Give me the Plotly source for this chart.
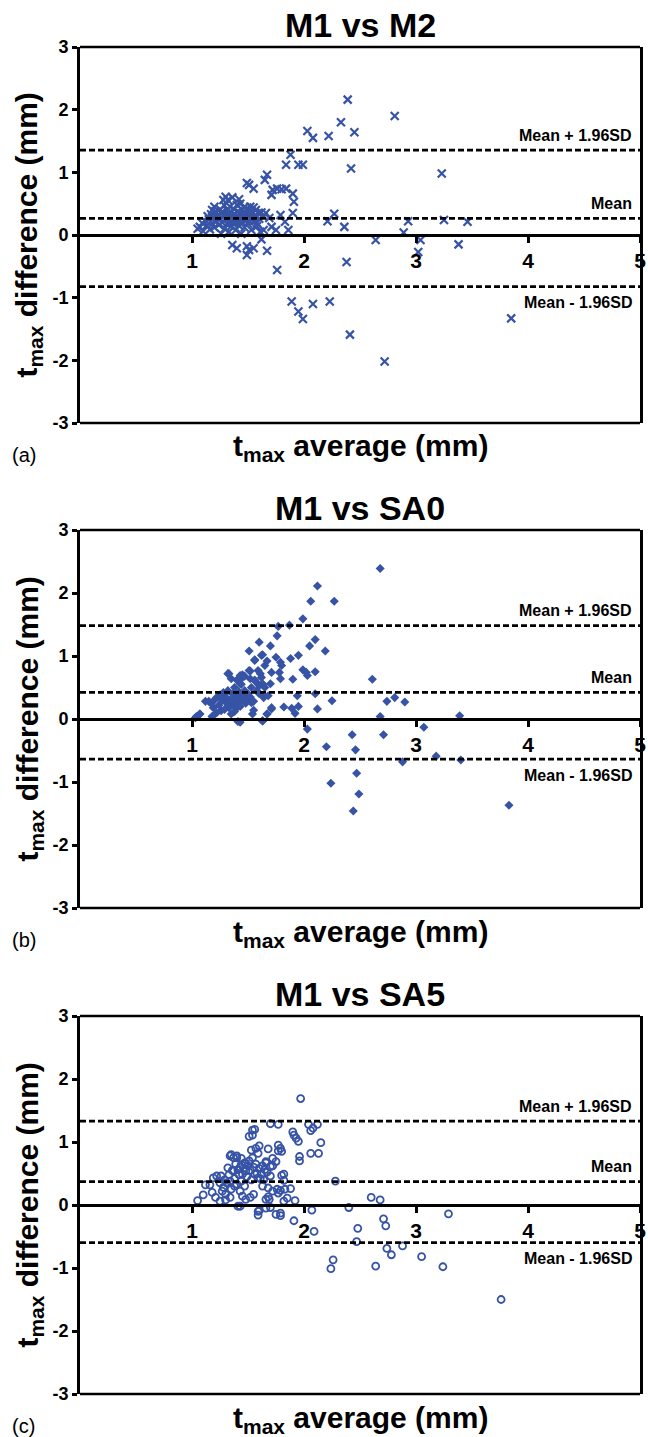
import plotly.graph_objects as go

# ---- panel (a): M1 vs M2 ----
m2_avg = [2.39, 2.81, 2.33, 2.45, 2.03, 2.08, 2.22, 2.42, 1.88, 1.84,
          1.95, 1.99, 3.23, 1.67, 1.65, 1.49, 1.51, 1.55, 1.72, 1.76,
          1.80, 1.84, 1.71, 1.90, 1.91, 1.90, 1.79, 1.83, 1.86, 2.21,
          2.27, 2.36, 2.93, 2.89, 3.25, 3.46, 2.64, 3.04, 3.02, 3.38,
          2.38, 1.76, 1.89, 1.95, 1.99, 2.08, 2.23, 2.41, 2.72, 3.85,
          1.36, 1.40, 1.49, 1.51, 1.55, 1.67, 1.62, 1.49, 1.66, 1.69,
          1.71, 1.75, 1.64, 1.58,
          1.05, 1.07, 1.09, 1.10, 1.12, 1.13, 1.14, 1.15, 1.16, 1.17,
          1.18, 1.19, 1.20, 1.20, 1.21, 1.22, 1.23, 1.24, 1.25, 1.25,
          1.26, 1.27, 1.28, 1.28, 1.29, 1.30, 1.30, 1.31, 1.31, 1.32,
          1.32, 1.33, 1.33, 1.34, 1.34, 1.35, 1.35, 1.36, 1.37, 1.37,
          1.38, 1.38, 1.39, 1.40, 1.40, 1.41, 1.41, 1.42, 1.43, 1.43,
          1.44, 1.44, 1.45, 1.45, 1.46, 1.47, 1.47, 1.48, 1.48, 1.49,
          1.50, 1.50, 1.51, 1.52, 1.52, 1.53, 1.54, 1.55, 1.55, 1.56,
          1.57, 1.58, 1.59, 1.60, 1.61, 1.62, 1.64, 1.26, 1.18, 1.36,
          1.42, 1.29, 1.22, 1.27, 1.33, 1.39, 1.46, 1.51, 1.24, 1.36,
          1.44, 1.53]
m2_diff = [2.16, 1.90, 1.80, 1.64, 1.66, 1.55, 1.58, 1.06, 1.28, 1.12,
           1.12, 1.12, 0.98, 0.96, 0.88, 0.83, 0.80, 0.74, 0.72, 0.74,
           0.73, 0.74, 0.64, 0.66, 0.53, 0.35, 0.32, 0.21, 0.08, 0.22,
           0.34, 0.13, 0.22, 0.04, 0.24, 0.21, -0.08, -0.08, -0.27, -0.15,
           -0.43, -0.56, -1.06, -1.22, -1.34, -1.10, -1.06, -1.59, -2.02, -1.33,
           -0.16, -0.21, -0.32, -0.24, -0.21, -0.25, -0.07, -0.18, 0.35, 0.27,
           0.13, 0.08, 0.08, 0.19,
           0.10, 0.13, 0.19, 0.06, 0.22, 0.15, 0.30, 0.25, 0.09, 0.33,
           0.18, 0.27, 0.45, 0.12, 0.38, 0.22, 0.30, 0.16, 0.41, 0.26,
           0.35, 0.20, 0.56, 0.31, 0.10, 0.61, 0.25, 0.40, 0.18, 0.56,
           0.33, 0.28, 0.05, 0.45, 0.22, 0.37, 0.14, 0.30, 0.26, 0.42,
           0.19, 0.34, 0.08, 0.29, 0.48, 0.23, 0.38, 0.15, 0.33, 0.50,
           0.26, 0.02, 0.40, 0.20, 0.31, 0.45, 0.12, 0.36, 0.25, 0.42,
           0.30, 0.18, 0.38, 0.27, 0.45, 0.08, 0.34, 0.44, 0.22, 0.30,
           0.40, 0.14, 0.35, 0.26, 0.05, 0.36, 0.30, 0.02, 0.40, 0.60,
           0.57, 0.47, 0.28, 0.36, 0.20, 0.24, 0.34, 0.22, 0.32, 0.19,
           0.28, 0.39]

# ---- panel (b): M1 vs SA0 ----
sa0_avg = [2.68, 2.12, 2.06, 2.27, 1.99, 1.87, 1.77, 1.76, 2.10, 1.60,
           1.70, 2.05, 1.51, 2.19, 1.63, 1.95, 1.88, 1.75, 1.79, 1.80,
           1.56, 1.65, 1.67, 1.99, 2.02, 2.03, 2.10, 1.90, 1.79, 1.78,
           1.71, 2.61, 1.52, 1.59, 1.33, 1.45, 1.63, 1.70, 1.52, 2.10,
           1.94, 2.25, 2.74, 2.81, 2.90, 1.95, 1.82, 1.89, 2.12, 1.92,
           1.71, 1.67, 1.55, 1.63, 1.41, 1.18, 1.07, 1.03, 2.68, 3.39,
           2.03, 3.07, 2.43, 2.71, 2.20, 2.46, 3.18, 3.40, 2.88, 2.47,
           2.24, 2.49, 2.44, 3.83,
           1.04, 1.07, 1.12, 1.15, 1.19, 1.18, 1.22, 1.28, 1.32, 1.35,
           1.43, 1.44, 1.43, 1.39, 1.26, 1.33, 1.35, 1.40, 1.43, 1.47,
           1.50, 1.51, 1.53, 1.54, 1.56, 1.62, 1.57, 1.60, 1.63, 1.64,
           1.67, 1.68, 1.71, 1.62, 1.17, 1.20, 1.22, 1.24, 1.25, 1.27,
           1.29, 1.30, 1.31, 1.32, 1.33, 1.34, 1.36, 1.37, 1.38, 1.38,
           1.40, 1.40, 1.41, 1.42, 1.43, 1.44, 1.45, 1.46, 1.47, 1.48,
           1.50, 1.52, 1.53, 1.55, 1.56, 1.58, 1.60, 1.61, 1.63, 1.65]
sa0_diff = [2.39, 2.11, 1.87, 1.87, 1.59, 1.49, 1.47, 1.32, 1.26, 1.22,
            1.16, 1.16, 1.08, 1.08, 1.02, 1.01, 0.96, 0.98, 0.90, 0.85,
            0.94, 0.85, 0.92, 0.78, 0.74, 0.69, 0.75, 0.63, 0.64, 0.74,
            0.74, 0.63, 0.76, 0.77, 0.72, 0.70, 0.56, 0.56, 0.64, 0.40,
            0.37, 0.29, 0.28, 0.34, 0.27, 0.20, 0.19, 0.17, 0.16, 0.09,
            0.16, 0.08, 0.14, -0.03, -0.04, 0.04, 0.08, 0.02, 0.04, 0.05,
            -0.16, -0.13, -0.25, -0.25, -0.44, -0.49, -0.59, -0.65, -0.68, -0.86,
            -1.02, -1.19, -1.46, -1.37,
            0.04, 0.08, 0.28, 0.28, 0.18, 0.04, 0.34, 0.42, 0.72, 0.64,
            0.69, 0.64, 0.56, 0.34, 0.13, 0.21, 0.08, 0.18, -0.05, 0.45,
            0.34, 0.77, 0.26, 0.08, 0.93, 1.01, 0.59, 0.53, -0.03, 0.34,
            0.08, 0.37, 0.18, 0.66, 0.25, 0.30, 0.10, 0.22, 0.38, 0.30,
            0.15, 0.35, 0.25, 0.45, 0.18, 0.30, 0.40, 0.22, 0.12, 0.50,
            0.27, 0.62, 0.35, 0.43, 0.20, 0.55, 0.30, 0.38, 0.68, 0.25,
            0.40, 0.35, 0.50, 0.28, 0.62, 0.45, 0.40, 0.72, 0.55, 0.50]

# ---- panel (c): M1 vs SA5 ----
sa5_avg = [1.97, 2.04, 2.12, 1.70, 1.77, 2.08, 2.06, 1.56, 1.54, 1.90,
           1.91, 1.93, 1.95, 2.15, 1.60, 1.77, 1.79, 1.68, 1.80, 1.53,
           2.06, 2.13, 1.96, 1.96, 1.35, 1.40, 1.44, 1.59, 1.72, 1.75,
           1.70, 1.66, 1.82, 1.82, 2.28, 1.76, 1.79, 1.88, 1.85, 1.92,
           1.68, 1.69, 1.63, 2.60, 2.68, 1.05, 1.10, 1.12, 1.16, 1.70,
           1.60, 1.59, 1.79, 1.79, 1.91, 2.07, 2.09, 2.40, 3.29, 2.71,
           2.73, 2.48, 2.47, 2.74, 2.78, 2.88, 3.05, 2.26, 2.24, 2.64,
           3.24, 3.76, 1.43,
           1.19, 1.22, 1.18, 1.21, 1.25, 1.26, 1.34, 1.37, 1.40, 1.32,
           1.37, 1.41, 1.44, 1.47, 1.51, 1.54, 1.51, 1.54, 1.57, 1.34,
           1.38, 1.43, 1.45, 1.48, 1.41, 1.52, 1.55, 1.34, 1.30, 1.28,
           1.31, 1.45, 1.48, 1.56, 1.59, 1.62, 1.65, 1.66, 1.59, 1.66,
           1.66, 1.68, 1.72, 1.75, 1.77, 1.70, 1.72, 1.77, 1.80, 1.83,
           1.82, 1.25, 1.27, 1.29, 1.30, 1.33, 1.35, 1.36, 1.38, 1.39,
           1.40, 1.42, 1.43, 1.44, 1.46, 1.47, 1.48, 1.49, 1.50, 1.52,
           1.53, 1.55, 1.57, 1.58, 1.60, 1.61, 1.63, 1.64, 1.67]
sa5_diff = [1.69, 1.28, 1.28, 1.29, 1.28, 1.22, 1.18, 1.20, 1.11, 1.16,
            1.11, 1.06, 1.01, 0.99, 0.94, 0.95, 0.90, 0.89, 0.85, 0.87,
            0.82, 0.82, 0.77, 0.70, 0.80, 0.78, 0.74, 0.82, 0.74, 0.69,
            0.61, 0.69, 0.49, 0.39, 0.38, 0.25, 0.23, 0.26, 0.11, 0.07,
            0.13, 0.09, 0.30, 0.12, 0.08, 0.07, 0.16, 0.32, 0.32, -0.04,
            -0.09, -0.16, -0.13, -0.17, -0.25, -0.08, -0.42, -0.04, -0.14, -0.22,
            -0.33, -0.37, -0.58, -0.69, -0.79, -0.65, -0.82, -0.87, -1.01, -0.97,
            -0.98, -1.50, -0.02,
            0.43, 0.46, 0.20, 0.12, 0.06, 0.46, 0.78, 0.75, 0.75, 0.59,
            0.54, 0.56, 0.64, 0.67, 0.70, 0.75, 1.09, 1.19, 0.90, 0.38,
            0.30, 0.22, 0.14, 0.09, -0.02, 0.12, 0.17, 0.12, 0.17, 0.28,
            0.35, 0.49, 0.54, 0.49, 0.43, 0.49, 0.56, 0.67, -0.10, -0.05,
            0.09, 0.27, 0.22, -0.15, 0.19, 0.46, 0.62, 0.86, 0.47, 0.25,
            0.06, 0.35, 0.22, 0.40, 0.08, 0.48, 0.25, 0.55, 0.42, 0.65,
            0.33, 0.48, 0.60, 0.38, 0.58, 0.30, 0.66, 0.45, 0.62, 0.55,
            0.40, 0.60, 0.65, 0.50, 0.58, 0.42, 0.62, 0.40, 0.52]

titles = ["M1 vs M2", "M1 vs SA0", "M1 vs SA5"]
panel_tags = ["(a)", "(b)", "(c)"]
mean_diff = [0.266, 0.424, 0.370]
upper_loa = [1.354, 1.483, 1.331]
lower_loa = [-0.823, -0.636, -0.597]
x_ticks = [1, 2, 3, 4, 5]
y_ticks = [-3, -2, -1, 0, 1, 2, 3]

W, H = 648, 1437
ML, MR, MT, MB = 80, 1.5, 47, 43
plot_w = W - ML - MR
plot_h = H - MT - MB
frames = [(47, 423), (530, 908), (1016, 1394)]  # top/bottom pixel rows of each frame

BLUE = "#3753a5"
FONT = "Liberation Sans, Arial, sans-serif"
LW = 2.7


def pfrac(py):
    # pixel row -> paper fraction
    return (H - MB - py) / plot_h


series = [(m2_avg, m2_diff), (sa0_avg, sa0_diff), (sa5_avg, sa5_diff)]
markers = [
    dict(symbol="x-thin", size=8, color=BLUE, line=dict(width=2.2, color=BLUE)),
    dict(symbol="diamond", size=7, color=BLUE, line=dict(width=0)),
    dict(symbol="circle-open", size=7, color=BLUE, line=dict(width=1.8, color=BLUE)),
]

fig = go.Figure()
layout = dict(
    width=W, height=H,
    margin=dict(l=ML, r=MR, t=MT, b=MB),
    paper_bgcolor="white", plot_bgcolor="white",
    showlegend=False,
    font=dict(family=FONT, color="black", size=14),
)
shapes = []
annotations = []

for i in range(3):
    n = "" if i == 0 else str(i + 1)
    xr, yr = "x" + n, "y" + n
    top, bot = frames[i]
    y0, y1 = pfrac(bot), pfrac(top)

    fig.add_trace(go.Scatter(x=series[i][0], y=series[i][1], mode="markers",
                             marker=markers[i], xaxis=xr, yaxis=yr, hoverinfo="skip"))

    layout["xaxis" + n] = dict(
        domain=[0, 1], anchor="free", position=(y0 + y1) / 2, range=[0, 5],
        showline=True, linewidth=LW, linecolor="black",
        ticks="outside", ticklen=6, tickwidth=2.5, tickcolor="black",
        tickvals=x_ticks, ticktext=["<b>%d</b>" % v for v in x_ticks],
        tickfont=dict(size=21, family=FONT, color="black"),
        ticklabeloverflow="allow",
        showgrid=False, zeroline=False)
    layout["yaxis" + n] = dict(
        domain=[y0, y1], anchor=xr, range=[-3, 3],
        showline=True, mirror=True, linewidth=LW, linecolor="black",
        ticks="outside", ticklen=5, tickwidth=2.5, tickcolor="black",
        tickvals=y_ticks, ticktext=["<b>%d</b>" % v for v in y_ticks],
        tickfont=dict(size=18, family=FONT, color="black"),
        showgrid=False, zeroline=False)

    # top and bottom of the frame
    for yy in (0, 1):
        shapes.append(dict(type="line", xref=xr + " domain", yref=yr + " domain",
                           x0=0, x1=1, y0=yy, y1=yy,
                           line=dict(color="black", width=LW)))

    # mean and limits of agreement
    levels = [upper_loa[i], mean_diff[i], lower_loa[i]]
    labels = ["Mean + 1.96SD", "Mean", "Mean - 1.96SD"]
    shifts = [15, 15, -16]
    for val, lab, sh in zip(levels, labels, shifts):
        shapes.append(dict(type="line", xref=xr, yref=yr, x0=0, x1=5, y0=val, y1=val,
                           line=dict(color="black", width=LW, dash="6px,3px")))
        annotations.append(dict(xref=xr, yref=yr, x=5, y=val, xanchor="right",
                                yanchor="middle", xshift=-6, yshift=sh, showarrow=False,
                                text="<b>%s</b>" % lab,
                                font=dict(size=16, family=FONT, color="black")))

    annotations.append(dict(xref=xr + " domain", yref=yr + " domain", x=0.5, y=1,
                            yshift=22, xanchor="center", yanchor="middle", showarrow=False,
                            text="<b>%s</b>" % titles[i],
                            font=dict(size=34, family=FONT, color="black")))
    annotations.append(dict(xref=xr + " domain", yref=yr + " domain", x=0.5, y=0,
                            yshift=-25, xanchor="center", yanchor="middle", showarrow=False,
                            text="<b>t<sub>max</sub> average (mm)</b>",
                            font=dict(size=30, family=FONT, color="black")))
    annotations.append(dict(xref="paper", yref=yr + " domain", x=(28 - ML) / plot_w, y=0.5,
                            xanchor="center", yanchor="middle", textangle=-90, showarrow=False,
                            text="<b>t<sub>max</sub> difference (mm)</b>",
                            font=dict(size=30, family=FONT, color="black")))
    annotations.append(dict(xref="paper", yref=yr + " domain", x=(23 - ML) / plot_w, y=0,
                            yshift=-32, xanchor="center", yanchor="middle", showarrow=False,
                            text=panel_tags[i],
                            font=dict(size=20, family=FONT, color="black")))

layout["shapes"] = shapes
layout["annotations"] = annotations
fig.update_layout(layout)
# drop the page's default body margin so the figure sits at the window's corner
fig.write_html("out.html", config={"displayModeBar": False},
               post_script="document.body.style.margin='0';document.body.style.overflow='hidden';")
